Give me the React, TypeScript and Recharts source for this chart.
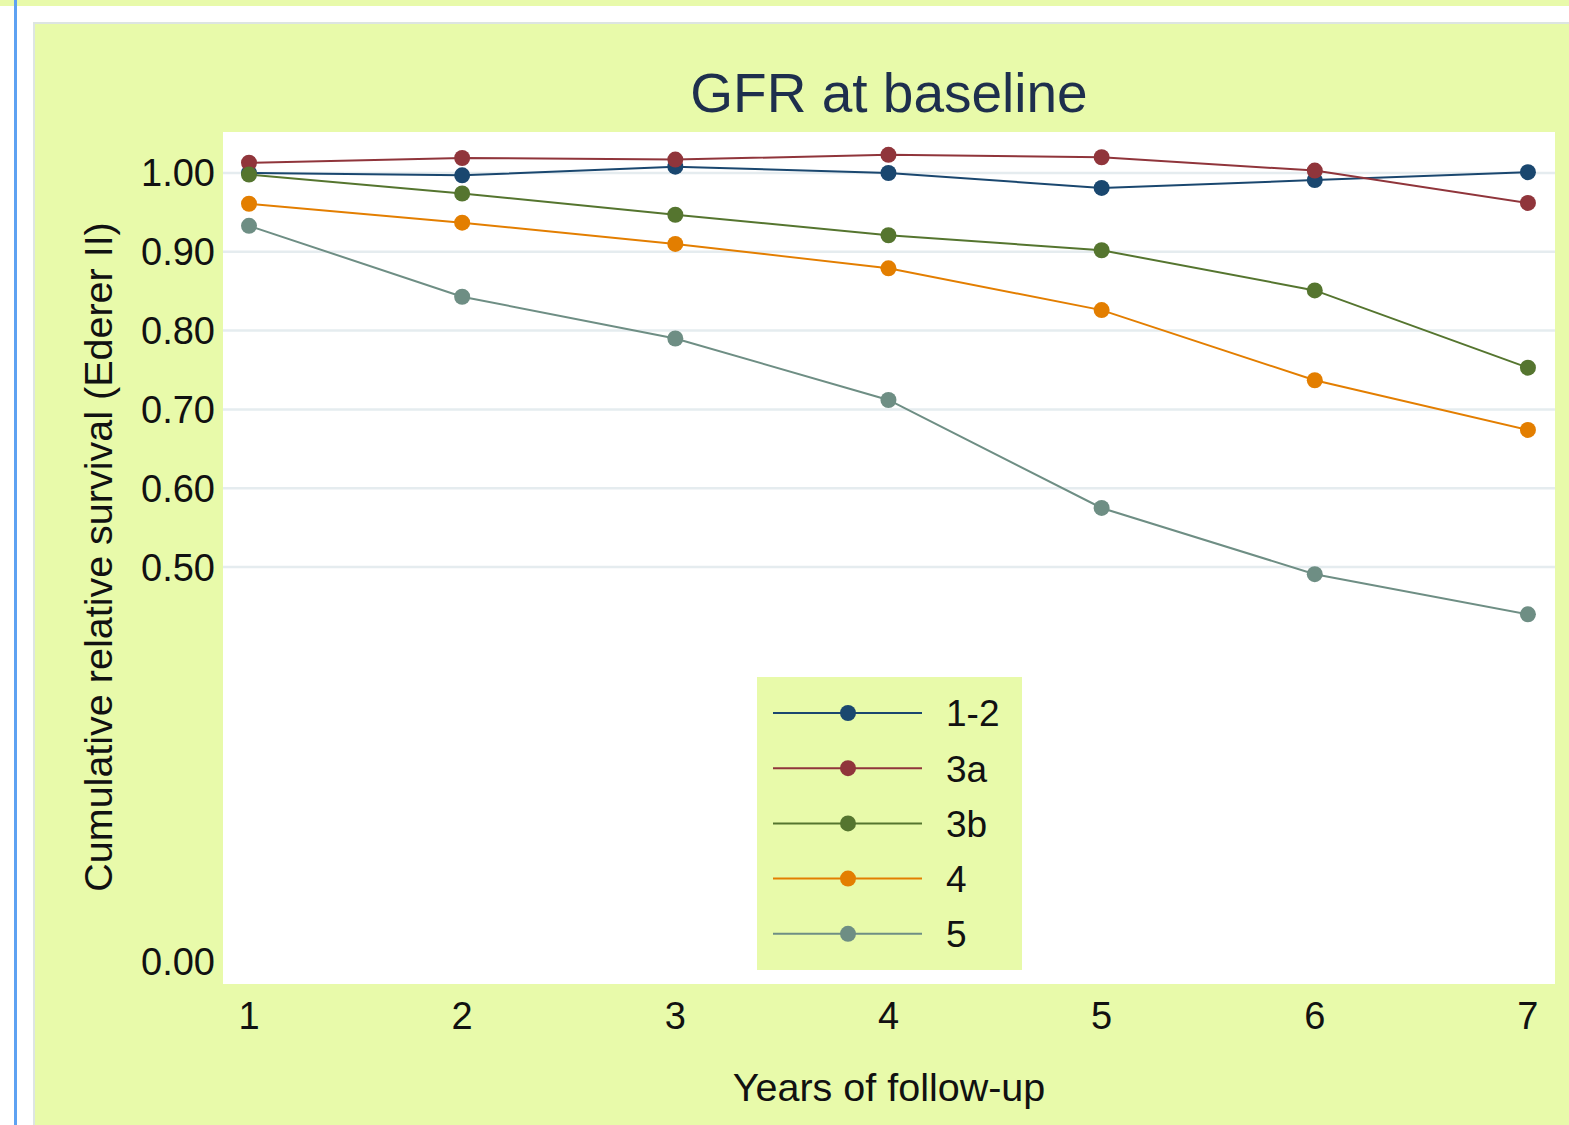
import { LineChart, Line, XAxis, YAxis, CartesianGrid, Label } from 'recharts'

const years = [1, 2, 3, 4, 5, 6, 7]
const gfr12 = [1.0, 0.997, 1.008, 1.0, 0.981, 0.991, 1.001]
const gfr3a = [1.013, 1.019, 1.017, 1.023, 1.02, 1.003, 0.962]
const gfr3b = [0.998, 0.974, 0.947, 0.921, 0.902, 0.851, 0.753]
const gfr4 = [0.961, 0.937, 0.91, 0.879, 0.826, 0.737, 0.674]
const gfr5 = [0.933, 0.843, 0.79, 0.712, 0.575, 0.491, 0.44]
const seriesNames = ['1-2', '3a', '3b', '4', '5']
const seriesColors = ['#1A476F', '#90353B', '#55752F', '#E37E00', '#6E8E84']
const yTicks = [0, 0.5, 0.6, 0.7, 0.8, 0.9, 1.0]
const gridValues = [0.5, 0.6, 0.7, 0.8, 0.9, 1.0]

const series = [gfr12, gfr3a, gfr3b, gfr4, gfr5]
const data = years.map((year, i) => {
  const row: Record<string, number> = { year }
  seriesNames.forEach((name, s) => {
    row[name] = series[s][i]
  })
  return row
})

const FONT = '"Liberation Sans", Arial, sans-serif'
const PANEL = '#E8FAAA'

// legend drawn beside the chart so it doesn't eat plot height
const LegendBox = () => (
  <svg width={265} height={293} style={{ position: 'absolute', left: 757, top: 677 }}>
    <rect x={0} y={0} width={265} height={293} fill={PANEL} />
    {seriesNames.map((name, i) => {
      const y = 36 + i * 55.2
      return (
        <g key={name}>
          <line x1={16} x2={165} y1={y} y2={y} stroke={seriesColors[i]} strokeWidth={2} />
          <circle cx={91} cy={y} r={8} fill={seriesColors[i]} />
          <text x={189} y={y} dy="0.36em" fontSize={37} fontFamily={FONT} fill="#111">
            {name}
          </text>
        </g>
      )
    })}
  </svg>
)

const App = () => {
  return (
    <div style={{ position: 'fixed', left: 0, top: 0, width: 1569, height: 1125, background: '#fff', overflow: 'hidden' }}>
      <div style={{ position: 'absolute', left: 0, top: 0, width: 1569, height: 6, background: PANEL }} />
      <div style={{ position: 'absolute', left: 14, top: 0, width: 3, height: 1125, background: '#5EA2F2' }} />
      <div
        style={{
          position: 'absolute',
          left: 33,
          top: 22,
          width: 1560,
          height: 1120,
          background: PANEL,
          borderLeft: '2px solid #DDE5E2',
          borderTop: '2px solid #DDE5E2',
        }}
      />
      <div
        style={{
          position: 'absolute',
          left: 223,
          top: 60,
          width: 1332,
          textAlign: 'center',
          fontFamily: FONT,
          fontSize: 55,
          lineHeight: '66px',
          color: '#1E2F4D',
        }}
      >
        GFR at baseline
      </div>
      <div style={{ position: 'absolute', left: 0, top: 0 }}>
        <LineChart
          width={1569}
          height={1125}
          data={data}
          margin={{ top: 132, right: 14, bottom: 81, left: 103 }}
        >
          <CartesianGrid
            fill="#fff"
            vertical={false}
            horizontalValues={gridValues}
            stroke="#E5ECEF"
            strokeWidth={2.5}
          />
          <XAxis
            dataKey="year"
            type="number"
            domain={[0.878, 7.127]}
            ticks={years}
            allowDataOverflow
            axisLine={false}
            tickLine={false}
            tickSize={0}
            tickMargin={18}
            height={60}
            tick={{ fill: '#111', fontSize: 38, fontFamily: FONT }}
          >
            <Label
              content={() => (
                <text x={889} y={1087} dy="0.36em" textAnchor="middle" fontSize={39.5} fontFamily={FONT} fill="#111">
                  Years of follow-up
                </text>
              )}
            />
          </XAxis>
          <YAxis
            type="number"
            domain={[-0.029, 1.052]}
            ticks={yTicks}
            allowDataOverflow
            axisLine={false}
            tickLine={false}
            tickSize={0}
            tickMargin={8}
            width={120}
            tickFormatter={(v: number) => v.toFixed(2)}
            tick={{ fill: '#111', fontSize: 38, fontFamily: FONT }}
          >
            <Label
              content={() => (
                <text
                  x={98}
                  y={557}
                  dy="0.36em"
                  textAnchor="middle"
                  transform="rotate(-90 98 557)"
                  fontSize={39.5}
                  fontFamily={FONT}
                  fill="#111"
                >
                  Cumulative relative survival (Ederer II)
                </text>
              )}
            />
          </YAxis>
          {seriesNames.map((name, i) => (
            <Line
              key={name}
              type="linear"
              dataKey={name}
              stroke={seriesColors[i]}
              strokeWidth={2}
              dot={{ r: 8, fill: seriesColors[i], stroke: 'none' }}
              activeDot={false}
              isAnimationActive={false}
            />
          ))}
        </LineChart>
      </div>
      <LegendBox />
    </div>
  )
}

export default App
